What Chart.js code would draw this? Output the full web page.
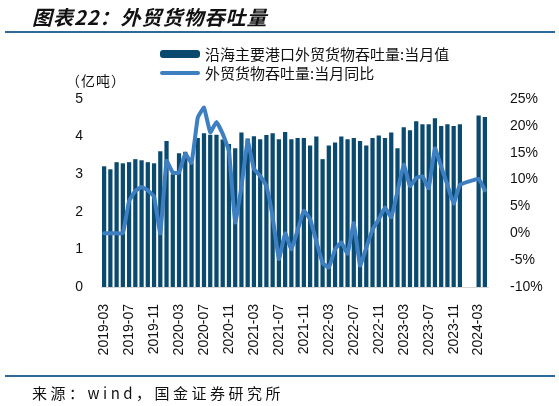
<!DOCTYPE html>
<html>
<head>
<meta charset="utf-8">
<script src="https://cdn.jsdelivr.net/npm/chart.js@4/dist/chart.umd.min.js"></script>
<style>
  html, body { margin: 0; padding: 0; background: #fff; overflow: hidden; }
  #wrap { position: relative; width: 559px; height: 406px; font-family: "Noto Sans CJK SC", "Liberation Sans", sans-serif; color: #111; }
  #chartBox { position: absolute; left: 0; top: 0; width: 559px; height: 406px; }
  .title { position: absolute; left: 32px; top: 2px; font-size: 20px; font-weight: bold; font-style: italic; letter-spacing: 1px; }
  .rule { position: absolute; left: 5px; width: 550px; height: 2px; background: #2e6a98; }
  .unit { position: absolute; left: 66px; top: 70px; font-size: 14px; letter-spacing: 1px; }
  .legend { position: absolute; left: 160px; top: 44px; font-size: 15px; line-height: 19px; }
  .legend div { display: flex; align-items: center; height: 19px; }
  .sw { display: inline-block; width: 40px; margin-right: 5px; border-radius: 3px; }
  .source { position: absolute; left: 32px; top: 382px; font-size: 15px; letter-spacing: 3.5px; }
</style>
</head>
<body>
<div id="wrap">
  <div id="chartBox"><canvas id="c"></canvas></div>
  <div class="title">图表22：外贸货物吞吐量</div>
  <div class="rule" style="top:31px"></div>
  <div class="legend">
    <div><span class="sw" style="height:8px;background:#0b4a6f"></span>沿海主要港口外贸货物吞吐量:当月值</div>
    <div><span class="sw" style="height:4px;background:#3e7fc1"></span>外贸货物吞吐量:当月同比</div>
  </div>
  <div class="unit">（亿吨）</div>
  <div class="rule" style="top:375px"></div>
  <div class="source">来源：wind，国金证券研究所</div>
</div>
<script>
// months 2019-03 .. 2024-04
const months = [];
for (let y = 2019, m = 3; y < 2024 || (y === 2024 && m <= 4); m++) {
  if (m > 12) { m = 1; y++; }
  months.push(y + '-' + String(m).padStart(2, '0'));
}

// 沿海主要港口外贸货物吞吐量:当月值 (亿吨)
const throughput = [
  3.21, 3.13, 3.32, 3.29, 3.32, 3.40, 3.37, 3.32, 3.29, 3.61,
  3.88, 3.00, 3.56, 3.60, 3.30, 3.96, 4.09, 4.05, 4.05, 3.92,
  3.80, 3.69, 4.11, 3.95, 4.01, 3.93, 4.04, 4.09, 3.93, 4.12,
  3.93, 3.96, 3.96, 3.76, 4.00, 3.40, 3.76, 3.84, 4.00, 3.93,
  3.96, 3.88, 3.76, 3.96, 4.03, 3.96, 4.11, 3.69, 4.25, 4.17,
  4.41, 4.33, 4.33, 4.49, 4.28, 4.33, 4.28, 4.33, null, null,
  4.56, 4.52
];

// 外贸货物吞吐量:当月同比 (%)
const yoy = [
  0.0, 0.0, 0.0, 0.0, 6.0, 7.9, 8.6, 8.0, 6.8, 0.0,
  13.5, 11.3, 11.3, 14.8, 13.1, 21.5, 23.4, 18.8, 20.7, 18.5,
  15.3, 2.0, 8.7, 17.2, 12.0, 10.7, 8.8, 3.0, -4.8, 0.0,
  -3.0, 0.6, 4.2, 2.6, -1.5, -5.5, -6.4, -3.0, -1.7, -3.8,
  1.9, -6.0, -2.7, 0.7, 2.6, 4.8, 3.0, 7.8, 12.8, 8.8,
  10.3, 10.6, 8.4, 15.8, 12.4, 9.0, 5.5, 9.0, null, null,
  10.1, 8.0
];

const BAR_COLOR  = '#0b4a6f';
const LINE_COLOR = '#3e7fc1';
const tickFont = { family: 'Liberation Sans, Arial, sans-serif', size: 14 };

new Chart(document.getElementById('c'), {
  type: 'bar',
  data: {
    labels: months,
    datasets: [
      {
        type: 'line', label: '外贸货物吞吐量:当月同比', data: yoy, yAxisID: 'y1',
        borderColor: LINE_COLOR, borderWidth: 4, pointRadius: 0, tension: 0.1,
        borderJoinStyle: 'round', borderCapStyle: 'round', spanGaps: true, order: 1
      },
      {
        type: 'bar', label: '沿海主要港口外贸货物吞吐量:当月值', data: throughput, yAxisID: 'y',
        backgroundColor: BAR_COLOR, categoryPercentage: 0.68, barPercentage: 1, order: 2
      }
    ]
  },
  options: {
    responsive: true, maintainAspectRatio: false, animation: false,
    layout: { padding: { top: 99, left: 0, right: 0, bottom: 0 } },
    plugins: { legend: { display: false }, tooltip: { enabled: false } },
    scales: {
      x: {
        grid: { display: false },
        border: { display: true, color: '#d6d6d6' },
        ticks: {
          autoSkip: false, minRotation: 90, maxRotation: 90, padding: 9,
          color: '#111', font: tickFont,
          callback: (v, i) => (i % 4 === 0 ? months[i] : '')
        },
        afterFit: s => { s.height = 119; }
      },
      y: {
        position: 'left', min: 0, max: 5,
        grid: { display: false }, border: { display: false },
        ticks: { stepSize: 1, padding: 10, color: '#111', font: tickFont },
        afterFit: s => { s.width = 101; }
      },
      y1: {
        position: 'right', min: -10, max: 25,
        grid: { display: false }, border: { display: false },
        ticks: { stepSize: 5, padding: 14, color: '#111', font: tickFont, callback: v => v + '%' },
        afterFit: s => { s.width = 71; }
      }
    }
  }
});
</script>
</body>
</html>
